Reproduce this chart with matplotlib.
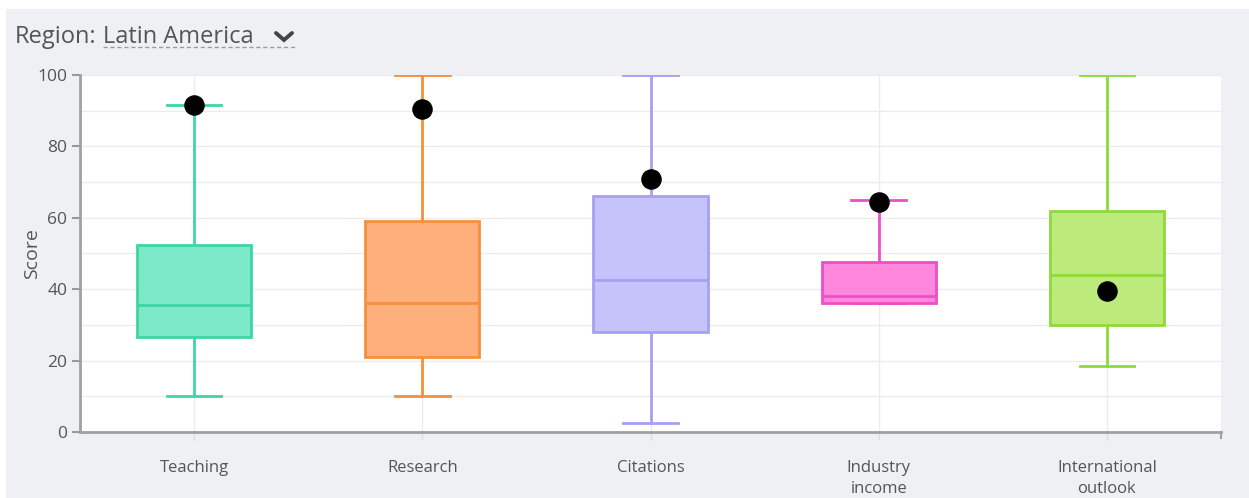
import matplotlib
matplotlib.use("Agg")
import matplotlib.pyplot as plt
from matplotlib.patches import Rectangle
from matplotlib.lines import Line2D

plt.rcParams['font.family'] = ['Open Sans', 'DejaVu Sans']

# score distribution per pillar (Latin America)
categories = ['Teaching', 'Research', 'Citations', 'Industry\nincome', 'International\noutlook']
whisker_low = [10, 10, 2.5, 36, 18.5]
q1 = [26.5, 21, 28, 36, 30]
median = [35.5, 36, 42.5, 38, 44]
q3 = [52.5, 59, 66, 47.5, 62]
whisker_high = [91.5, 100, 100, 65, 100]
region_score = [91.5, 90.5, 71, 64.5, 39.5]

line_colors = ['#3ed6a2', '#f5903c', '#a79ff2', '#ee4fc6', '#8ddb3a']
fill_colors = ['#7de9c8', '#fdb07c', '#c6c3fa', '#ff88dc', '#bdeb7b']

fig = plt.figure(figsize=(12.49, 4.98), dpi=100)
fig.patch.set_facecolor('white')
bg = '#eef0f3'
fig.patches.append(Rectangle((6 / 1249, 0), 1, 1 - 9 / 498, transform=fig.transFigure,
                             facecolor=bg, edgecolor='none', zorder=-10))

ax = fig.add_axes([80 / 1249, 66 / 498, 1141 / 1249, 357 / 498])
ax.set_facecolor('white')

stats = []
for i, name in enumerate(categories):
    stats.append(dict(label=name, whislo=whisker_low[i], q1=q1[i], med=median[i],
                      q3=q3[i], whishi=whisker_high[i], fliers=[]))

pos = list(range(len(categories)))
bp = ax.bxp(stats, positions=pos, widths=0.5, patch_artist=True,
            showfliers=False, capwidths=0.24)
for i in range(len(categories)):
    c = line_colors[i]
    bp['boxes'][i].set(facecolor=fill_colors[i], edgecolor=c, linewidth=2, zorder=3)
    bp['medians'][i].set(color=c, linewidth=2, zorder=4)
    for w in bp['whiskers'][2 * i:2 * i + 2]:
        w.set(color=c, linewidth=2, zorder=2)
    for cap in bp['caps'][2 * i:2 * i + 2]:
        cap.set(color=c, linewidth=2, zorder=2)

ax.scatter(pos, region_score, s=190, color='black', zorder=6)

ax.set_xlim(-0.5, len(categories) - 0.5)
ax.set_ylim(0, 100)
ax.set_yticks(range(0, 101, 20))
ax.set_yticks(range(10, 100, 20), minor=True)
ax.set_xticks(pos)
ax.set_xticklabels(categories, fontsize=12, color='#555555', linespacing=1.45)
ax.tick_params(axis='y', labelsize=12.5, labelcolor='#555555', color='#999999',
               length=6, width=1.5, pad=3)
ax.tick_params(axis='y', which='minor', length=0)
ax.tick_params(axis='x', color='#dddddd', length=6, width=1, pad=14)
ax.grid(True, which='both', color='#ececec', linewidth=1, zorder=0)
ax.set_axisbelow(True)

for side in ['top', 'right']:
    ax.spines[side].set_visible(False)
for side in ['left', 'bottom']:
    ax.spines[side].set_color('#a0a0a0')
    ax.spines[side].set_linewidth(2)

# end tick at the right of the x axis
ax.add_line(Line2D([1, 1], [0, -0.017], transform=ax.transAxes, color='#a0a0a0',
                   linewidth=1.5, clip_on=False))

ax.set_ylabel('Score', fontsize=14, color='#555555')
ax.yaxis.set_label_coords(-39 / 1141, 0.5)

# region selector header
fig.text(15 / 1249, 1 - 37 / 498, 'Region:', fontsize=17, color='#555555', va='center')
fig.text(103 / 1249, 1 - 37 / 498, 'Latin America', fontsize=17, color='#555555', va='center')
fig.add_artist(Line2D([103 / 1249, 296 / 1249], [1 - 47 / 498, 1 - 47 / 498],
                      transform=fig.transFigure, color='#9a9a9a', linewidth=1,
                      linestyle=(0, (3, 2))))
fig.add_artist(Line2D([276 / 1249, 284 / 1249, 292 / 1249],
                      [1 - 33 / 498, 1 - 40 / 498, 1 - 33 / 498],
                      transform=fig.transFigure, color='#444444', linewidth=2.8,
                      solid_capstyle='round', solid_joinstyle='miter'))

fig.savefig('out.png', dpi=100, facecolor=fig.get_facecolor())
